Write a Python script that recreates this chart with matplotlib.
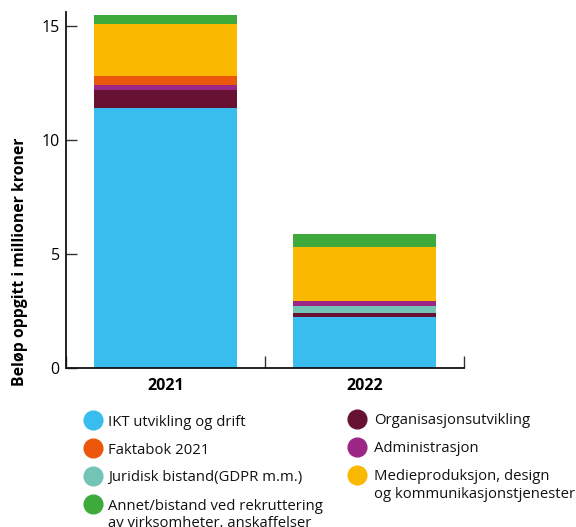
import matplotlib
matplotlib.use("Agg")
import matplotlib.pyplot as plt
from matplotlib.lines import Line2D
import numpy as np

years = ["2021", "2022"]
categories = ["IKT utvikling og drift", "Organisasjonsutvikling", "Juridisk bistand(GDPR m.m.)",
              "Administrasjon", "Faktabok 2021", "Medieproduksjon, design\nog kommunikasjonstjenester",
              "Annet/bistand ved rekruttering\nav virksomheter, anskaffelser"]
values = {
    "IKT utvikling og drift": [11.40, 2.24],
    "Organisasjonsutvikling": [0.79, 0.18],
    "Juridisk bistand(GDPR m.m.)": [0.0, 0.31],
    "Administrasjon": [0.22, 0.22],
    "Faktabok 2021": [0.39, 0.0],
    "Medieproduksjon, design\nog kommunikasjonstjenester": [2.28, 2.37],
    "Annet/bistand ved rekruttering\nav virksomheter, anskaffelser": [0.40, 0.53],
}
colors = {
    "IKT utvikling og drift": "#38BDEE",
    "Organisasjonsutvikling": "#671233",
    "Juridisk bistand(GDPR m.m.)": "#74C4B5",
    "Administrasjon": "#9B2686",
    "Faktabok 2021": "#EB580C",
    "Medieproduksjon, design\nog kommunikasjonstjenester": "#FAB900",
    "Annet/bistand ved rekruttering\nav virksomheter, anskaffelser": "#3FAA3C",
}
legend_col1 = ["IKT utvikling og drift", "Faktabok 2021", "Juridisk bistand(GDPR m.m.)",
               "Annet/bistand ved rekruttering\nav virksomheter, anskaffelser"]
legend_col2 = ["Organisasjonsutvikling", "Administrasjon",
               "Medieproduksjon, design\nog kommunikasjonstjenester"]

plt.rcParams['font.family'] = ['Open Sans', 'DejaVu Sans']

W, H = 576, 527
fig = plt.figure(figsize=(W / 100, H / 100), dpi=100)
ax = fig.add_axes([66 / W, 1 - 368 / H, (464 - 66) / W, (368 - 12) / H])

x = np.arange(len(years))
bottom = np.zeros(len(years))
for cat in categories:
    v = np.array(values[cat])
    ax.bar(x, v, bottom=bottom, width=0.72, color=colors[cat], linewidth=0)
    bottom += v

ax.set_xlim(-0.5, 1.5)
ax.set_ylim(0, 15.6)
ax.set_yticks([0, 5, 10, 15])
ax.set_xticks(x)
ax.set_xticklabels(years, fontweight="bold", fontsize=11.5)
ax.set_xticks([-0.5, 0.5, 1.5], minor=True)
ax.tick_params(axis="x", which="major", length=0, pad=7)
ax.tick_params(axis="x", which="minor", direction="in", length=8.5, width=1.0, color="#333333")
ax.tick_params(axis="y", direction="in", length=8, width=1.0, labelsize=11.5, pad=4.5, color="#333333")
for s in ["top", "right"]:
    ax.spines[s].set_visible(False)
for s in ["left", "bottom"]:
    ax.spines[s].set_linewidth(1.3)
    ax.spines[s].set_color("#111111")
ax.set_ylabel("Beløp oppgitt i millioner kroner", fontweight="bold", fontsize=11.3,
              va="center", ha="center")
ax.yaxis.set_label_coords((20 - 66) / (464 - 66), (368 - 262) / (368 - 12))

# manual legend (each label line placed on its own baseline)
LINE_STEP = 17.5
def legend_column(items, mx, tx, rows):
    for cat, ry in zip(items, rows):
        fig.add_artist(Line2D([mx / W], [1 - ry / H], marker="o", markersize=13.5,
                              color=colors[cat], linestyle="none", transform=fig.transFigure))
        for k, line in enumerate(cat.split("\n")):
            fig.text(tx / W, 1 - (ry + 5.5 + k * LINE_STEP) / H, line, fontsize=10.7,
                     va="baseline", ha="left", color="#111111")

legend_column(legend_col1, 93, 108, [420, 448, 476, 504])
legend_column(legend_col2, 357, 374, [419, 447, 475])

fig.savefig("out.png", dpi=100)
